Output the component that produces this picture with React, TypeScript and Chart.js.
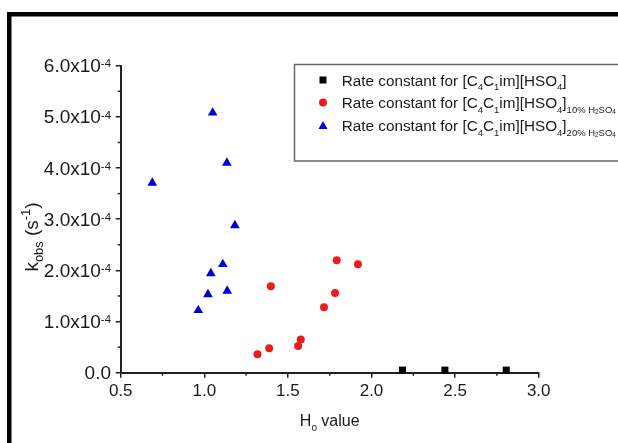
import React, { useEffect, useRef } from 'react';
import { Chart, registerables } from 'chart.js';
Chart.register(...registerables);

const FONT = '"Liberation Sans", Arial, Helvetica, sans-serif';

// H0 value (x) and k_obs in s^-1 (y)
const h0Pure = [2.185, 2.439, 2.806];
const kPure = [0.05e-4, 0.05e-4, 0.05e-4];

const h0Ten = [1.318, 1.388, 1.398, 1.561, 1.577, 1.716, 1.782, 1.792, 1.919];
const kTen = [0.36e-4, 0.48e-4, 1.69e-4, 0.52e-4, 0.65e-4, 1.28e-4, 1.56e-4, 2.2e-4, 2.12e-4];

const h0Twenty = [0.689, 0.964, 1.022, 1.039, 1.05, 1.111, 1.135, 1.137, 1.183];
const kTwenty = [3.71e-4, 1.22e-4, 1.53e-4, 1.94e-4, 5.08e-4, 2.12e-4, 4.1e-4, 1.6e-4, 2.88e-4];

const xTickLabels = ['0.5', '1.0', '1.5', '2.0', '2.5', '3.0'];
// y tick labels: mantissa and exponent (drawn as superscript)
const yTickMantissa = ['0.0', '1.0x10', '2.0x10', '3.0x10', '4.0x10', '5.0x10', '6.0x10'];
const yTickExponent = ['', '-4', '-4', '-4', '-4', '-4', '-4'];

type Seg = [string, number];
const legendPure: Seg[] = [['Rate constant for [C', 0], ['4', 1], ['C', 0], ['1', 1], ['im][HSO', 0], ['4', 1], [']', 0]];
const legendTen: Seg[] = [...legendPure, ['10% H', 1], ['2', 2], ['SO', 1], ['4', 2]];
const legendTwenty: Seg[] = [...legendPure, ['20% H', 1], ['2', 2], ['SO', 1], ['4', 2]];
const xTitle: Seg[] = [['H', 0], ['0', 1], [' value', 0]];
const yTitle: Seg[] = [['k', 0], ['obs', 1], [' (s', 0], ['-1', -1], [')', 0]];

const RED = '#ec1c1c';
const BLUE = '#0000d8';
const TEXT = '#1a1a1a';

function drawRich(
  ctx: CanvasRenderingContext2D,
  segs: Seg[],
  x: number,
  y: number,
  base: number,
  align: 'left' | 'center' | 'right',
  subRatio = 0.62,
  supOff = -0.4,
) {
  const size = (l: number) => (l === 0 ? base : l === 2 ? base * 0.42 : base * subRatio);
  const off = (l: number) => (l === 0 ? 0 : l === 1 ? base * 0.3 : l === 2 ? base * 0.42 : base * supOff);
  let total = 0;
  for (const [t, l] of segs) {
    ctx.font = `${size(l)}px ${FONT}`;
    total += ctx.measureText(t).width;
  }
  let cx = align === 'center' ? x - total / 2 : align === 'right' ? x - total : x;
  ctx.textAlign = 'left';
  ctx.textBaseline = 'alphabetic';
  for (const [t, l] of segs) {
    ctx.font = `${size(l)}px ${FONT}`;
    ctx.fillText(t, cx, y + off(l));
    cx += ctx.measureText(t).width;
  }
}

const decorPlugin = {
  id: 'decor',
  beforeDraw(chart: any) {
    const ctx = chart.ctx;
    ctx.save();
    ctx.fillStyle = '#fff';
    ctx.fillRect(0, 0, chart.width, chart.height);
    ctx.restore();
  },
  afterDraw(chart: any) {
    const ctx: CanvasRenderingContext2D = chart.ctx;
    const xs = chart.scales.x;
    const ys = chart.scales.y;
    ctx.save();
    // minor ticks
    ctx.strokeStyle = '#222';
    ctx.lineWidth = 1.5;
    const axY = ys.getPixelForValue(0);
    const axX = xs.getPixelForValue(0.5);
    for (let i = 0; i < 5; i++) {
      const px = xs.getPixelForValue(0.75 + i * 0.5);
      ctx.beginPath();
      ctx.moveTo(px, axY);
      ctx.lineTo(px, axY + 3);
      ctx.stroke();
    }
    for (let i = 0; i < 6; i++) {
      const py = ys.getPixelForValue((0.5 + i) * 1e-4);
      ctx.beginPath();
      ctx.moveTo(axX, py);
      ctx.lineTo(axX - 3, py);
      ctx.stroke();
    }
    // y tick labels with superscript exponent
    ctx.fillStyle = TEXT;
    ys.ticks.forEach((t: any, i: number) => {
      const idx = Math.round(t.value / 1e-4);
      const py = ys.getPixelForTick(i);
      const segs: Seg[] = [[yTickMantissa[idx], 0]];
      if (yTickExponent[idx]) segs.push([yTickExponent[idx], -1]);
      drawRich(ctx, segs, 111, py + 6.6, 19, 'right', 0.6, -0.26);
    });
    // axis titles
    ctx.fillStyle = TEXT;
    drawRich(ctx, xTitle, (xs.left + xs.right) / 2, 426, 16, 'center');
    ctx.save();
    ctx.translate(37.5, 237);
    ctx.rotate(-Math.PI / 2);
    drawRich(ctx, yTitle, 0, 0, 19, 'center', 0.68, -0.4);
    ctx.restore();
    // legend
    ctx.fillStyle = '#fff';
    ctx.fillRect(294.5, 64.5, 330, 96.5);
    ctx.strokeStyle = '#666';
    ctx.lineWidth = 1.5;
    ctx.strokeRect(294.5, 64.5, 330, 96.5);
    const rows: [Seg[], string, string, number][] = [
      [legendPure, '#000', 'rect', 80],
      [legendTen, RED, 'circle', 102.5],
      [legendTwenty, BLUE, 'triangle', 125.5],
    ];
    for (const [segs, col, style, cy] of rows) {
      ctx.fillStyle = col;
      ctx.beginPath();
      if (style === 'rect') ctx.rect(323 - 3.5, cy - 3.5, 7, 7);
      else if (style === 'circle') ctx.arc(323, cy, 4, 0, Math.PI * 2);
      else {
        ctx.moveTo(323, cy - 4.5);
        ctx.lineTo(327.5, cy + 3.5);
        ctx.lineTo(318.5, cy + 3.5);
        ctx.closePath();
      }
      ctx.fill();
      ctx.fillStyle = TEXT;
      drawRich(ctx, segs, 341.7, cy + 5.5, 15.3, 'left');
    }
    // outer frame
    ctx.fillStyle = '#000';
    ctx.fillRect(7, 12, chart.width - 7, 4.5);
    ctx.fillRect(7, 12, 4.5, chart.height - 12);
    ctx.restore();
  },
};

export default function App() {
  const ref = useRef<HTMLCanvasElement | null>(null);
  useEffect(() => {
    if (!ref.current) return;
    const chart = new Chart(ref.current, {
      type: 'scatter',
      data: {
        datasets: [
          {
            label: 'Rate constant for [C4C1im][HSO4]',
            data: h0Pure.map((x, i) => ({ x, y: kPure[i] })),
            pointStyle: 'rect',
            pointRadius: 5,
            backgroundColor: '#000',
            borderColor: '#000',
            borderWidth: 0,
            clip: false,
          },
          {
            label: 'Rate constant for [C4C1im][HSO4] 10% H2SO4',
            data: h0Ten.map((x, i) => ({ x, y: kTen[i] })),
            pointStyle: 'circle',
            pointRadius: 4,
            backgroundColor: RED,
            borderColor: RED,
            borderWidth: 0,
            clip: false,
          },
          {
            label: 'Rate constant for [C4C1im][HSO4] 20% H2SO4',
            data: h0Twenty.map((x, i) => ({ x, y: kTwenty[i] })),
            pointStyle: 'triangle',
            pointRadius: 5.6,
            backgroundColor: BLUE,
            borderColor: BLUE,
            borderWidth: 0,
            clip: false,
          },
        ],
      } as any,
      options: {
        responsive: false,
        animation: false,
        devicePixelRatio: 1,
        layout: { padding: { left: 0, top: 65.7, right: 79.3, bottom: 0 } },
        plugins: { legend: { display: false }, tooltip: { enabled: false } },
        scales: {
          x: {
            type: 'linear',
            min: 0.5,
            max: 3.0,
            ticks: {
              stepSize: 0.5,
              autoSkip: false,
              maxRotation: 0,
              padding: 3,
              color: TEXT,
              font: { family: FONT, size: 17 },
              callback: (v: any) => xTickLabels[Math.round((Number(v) - 0.5) / 0.5)] ?? '',
            },
            grid: { display: true, drawOnChartArea: false, drawTicks: true, tickLength: 5, color: '#222', lineWidth: 1.5 },
            border: { display: true, color: '#222', width: 2 },
            afterFit: (s: any) => { s.height = 70.3; },
          },
          y: {
            type: 'linear',
            min: 0,
            max: 6e-4,
            ticks: {
              stepSize: 1e-4,
              autoSkip: false,
              display: false,
            },
            grid: { display: true, drawOnChartArea: false, drawTicks: true, tickLength: 5, color: '#222', lineWidth: 1.5 },
            border: { display: true, color: '#222', width: 2 },
            afterFit: (s: any) => { s.width = 120.7; },
          },
        },
      } as any,
      plugins: [decorPlugin],
    });
    return () => chart.destroy();
  }, []);
  return (
    <div style={{ position: 'absolute', left: 0, top: 0, width: 618, height: 443, background: '#fff' }}>
      <canvas ref={ref} width={618} height={443} style={{ display: 'block' }} />
    </div>
  );
}
